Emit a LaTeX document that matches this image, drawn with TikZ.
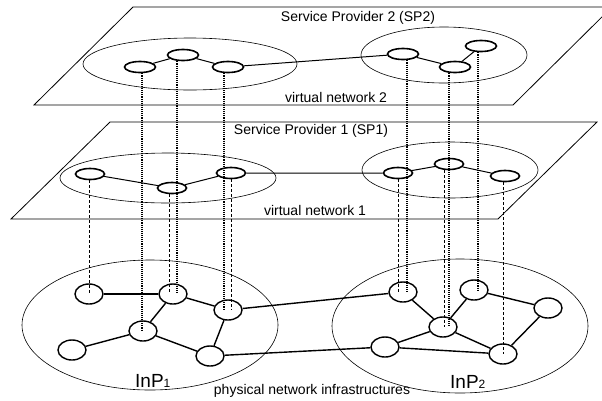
\documentclass[tikz,border=0pt]{standalone}
\usepackage{fontspec}
\setmainfont{Liberation Sans}
\usetikzlibrary{shapes.geometric}
\begin{document}
\begin{tikzpicture}[x=1pt,y=-1pt,
  plane/.style={draw,line width=0.8pt},
  region/.style={ellipse,draw,line width=0.6pt,inner sep=0pt},
  vnode/.style={ellipse,draw,line width=1.6pt,minimum width=31pt,minimum height=11pt,inner sep=0pt},
  pnode/.style={ellipse,draw,line width=1.4pt,minimum width=28pt,minimum height=20pt,inner sep=0pt},
  vlink/.style={line width=1pt},
  plink/.style={line width=1.4pt},
  mapdot/.style={line width=1.1pt,dash pattern=on 1.1pt off 1pt},
  mapdash/.style={line width=0.9pt,dash pattern=on 3pt off 2pt},
  lbl/.style={font=\fontsize{14}{16}\selectfont,inner sep=0pt}]
\useasboundingbox (0,0) rectangle (602,400);
\clip (0,0) rectangle (602,400);
% planes
\draw[plane] (34,105) -- (513,105) -- (612,7) -- (133,7) -- cycle;
\draw[plane] (11,219) -- (498,219) -- (597,122) -- (110,122) -- cycle;
% labels
\node[lbl] (t2) at (358,18) {Service Provider 2 (SP2)};
\node[lbl] (v2) at (336,97) {virtual network 2};
\node[lbl] (t1) at (311,131) {Service Provider 1 (SP1)};
\node[lbl] (v1) at (315,210) {virtual network 1};
\node[lbl] (ph) at (312,391) {physical network infrastructures};
\node[anchor=base west,inner sep=0pt] (i1) at (135,387) {\fontsize{19}{19}\selectfont InP\fontsize{12}{12}\selectfont 1};
\node[anchor=base west,inner sep=0pt] (i2) at (450,388) {\fontsize{19}{19}\selectfont InP\fontsize{12}{12}\selectfont 2};
% regions
\node[region,minimum width=214pt,minimum height=52pt] (R2a) at (190,64) {};
\node[region,minimum width=166pt,minimum height=56pt] (R2b) at (444,55) {};
\node[region,minimum width=216pt,minimum height=50pt] (R1a) at (168,178) {};
\node[region,minimum width=176pt,minimum height=56pt] (R1b) at (450,170) {};
\node[region,minimum width=256pt,minimum height=130pt] (P1) at (150,325) {};
\node[region,minimum width=256pt,minimum height=134pt] (P2) at (460,326) {};
% virtual network 2
\node[vnode] (a1) at (140,67) {};
\node[vnode] (a2) at (183,55) {};
\node[vnode] (a3) at (228,67) {};
\node[vnode] (b1) at (403,54) {};
\node[vnode] (b2) at (455,67) {};
\node[vnode] (b3) at (481,46) {};
% virtual network 1
\node[vnode,minimum width=29pt] (c1) at (90,174) {};
\node[vnode,minimum width=29pt] (c2) at (172,188) {};
\node[vnode,minimum width=29pt] (c3) at (231,173) {};
\node[vnode,minimum width=29pt] (d1) at (398,173) {};
\node[vnode,minimum width=29pt] (d2) at (449,164) {};
\node[vnode,minimum width=29pt] (d3) at (505,176) {};
% physical nodes
\node[pnode] (p1) at (89,294) {};
\node[pnode] (p2) at (173,294) {};
\node[pnode] (p3) at (228,310) {};
\node[pnode] (p4) at (143,331) {};
\node[pnode] (p5) at (72,350) {};
\node[pnode] (p6) at (210,356) {};
\node[pnode] (q1) at (403,292) {};
\node[pnode] (q2) at (474,290) {};
\node[pnode] (q3) at (548,308) {};
\node[pnode] (q4) at (443,327) {};
\node[pnode] (q5) at (385,347) {};
\node[pnode] (q6) at (503,354) {};
% virtual links
\draw[vlink] (a1) -- (a2) -- (a3) -- (b1) -- (b2) -- (b3);
\draw[vlink] (c1) -- (c2) -- (c3) -- (d1) -- (d2) -- (d3);
% physical links
\draw[plink] (p1) -- (p2);
\draw[plink] (p2) -- (p3);
\draw[plink] (p2) -- (p4);
\draw[plink] (p4) -- (p5);
\draw[plink] (p4) -- (p6);
\draw[plink] (p3) -- (p6);
\draw[plink] (p3) -- (q1);
\draw[plink] (p6) -- (q5);
\draw[plink] (q1) -- (q4);
\draw[plink] (q4) -- (q2);
\draw[plink] (q2) -- (q3);
\draw[plink] (q3) -- (q6);
\draw[plink] (q4) -- (q6);
\draw[plink] (q4) -- (q5);
\draw[plink] (q5) -- (q6);
% mapping lines VN2 (dotted)
\draw[mapdot] ([xshift=2pt]a1.south) -- ([xshift=2pt]a1.south |- p4.center);
\draw[mapdot] ([xshift=-6pt]a2.south) -- ([xshift=-6pt]a2.south |- p2.center);
\draw[mapdot] ([xshift=-4pt]a3.south) -- ([xshift=-4pt]a3.south |- p3.center);
\draw[mapdot] ([xshift=4pt]b1.south) -- ([xshift=4pt]b1.south |- q1.center);
\draw[mapdot] ([xshift=-6pt]b2.south) -- ([xshift=-6pt]b2.south |- q4.center);
\draw[mapdot] ([xshift=-3pt]b3.south) -- ([xshift=-3pt]b3.south |- q2.center);
% mapping lines VN1 (dashed)
\draw[mapdash] ([xshift=-1pt]c1.south) -- ([xshift=-1pt]c1.south |- p1.center);
\draw[mapdash] ([xshift=-3pt]c2.south) -- ([xshift=-3pt]c2.south |- p2.center);
\draw[mapdash] (c3.south) -- (c3.south |- p3.center);
\draw[mapdash] (d1.south) -- (d1.south |- q1.center);
\draw[mapdash] ([xshift=-5pt]d2.south) -- ([xshift=-5pt]d2.south |- q4.center);
\draw[mapdash] ([xshift=-2pt]d3.south) -- ([xshift=-2pt]d3.south |- q6.center);
\end{tikzpicture}
\end{document}
